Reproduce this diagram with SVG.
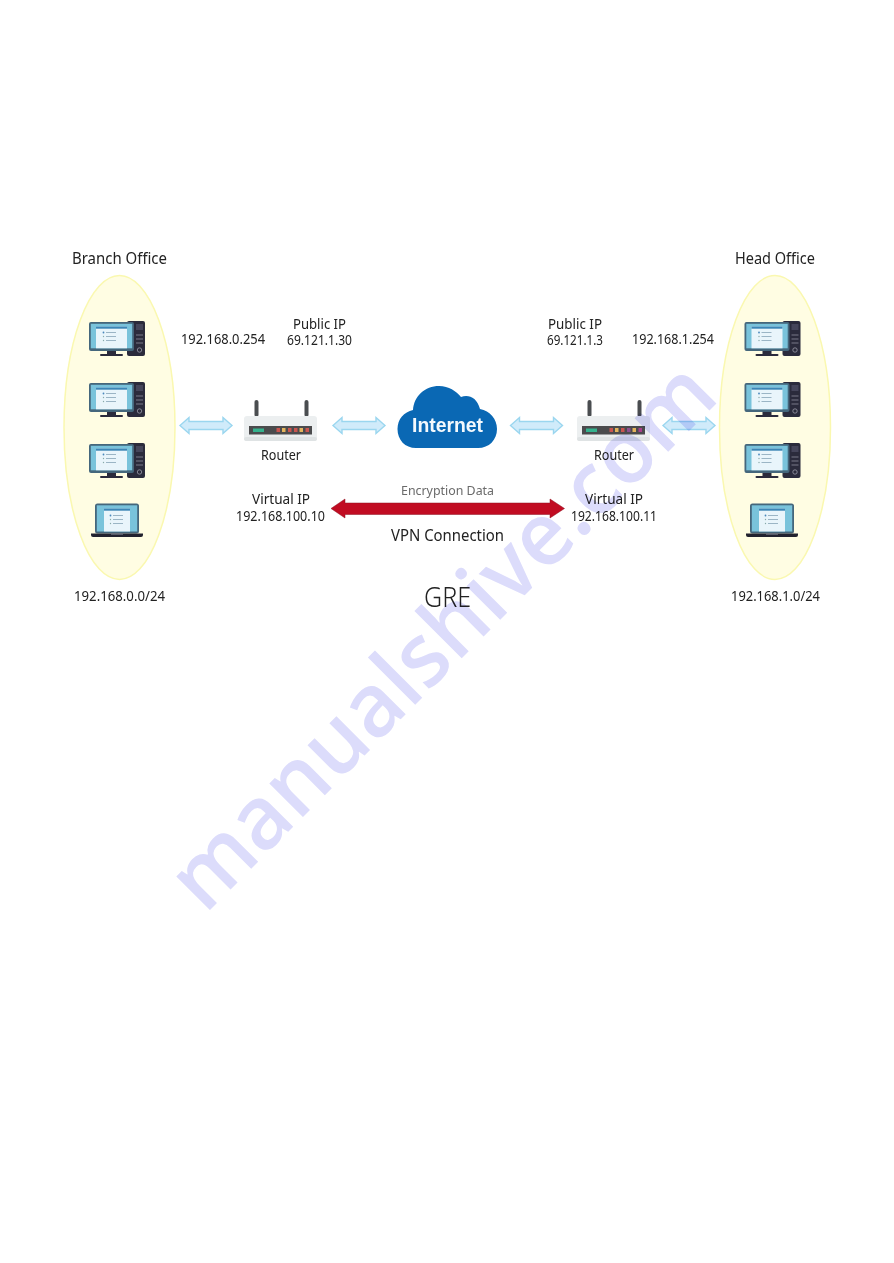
<svg xmlns="http://www.w3.org/2000/svg" width="894" height="1263" viewBox="0 0 894 1263">
<style>
text{font-family:"Noto Sans","Open Sans",sans-serif;fill:#222;font-size:13.5px}
.h{font-size:15.5px}
.enc{fill:#6a6a6a;font-size:13px}
.gre{font-size:28px;font-weight:300}
.inet{font-family:"Liberation Sans",Arial,sans-serif;font-weight:700;font-size:19.5px;fill:#f4f9fd}
.zone{fill:#fffde3;stroke:#faf8b0;stroke-width:1.5}
.flow{fill:#d0ebfa;stroke:#9ad6ef;stroke-width:1.4}
.wm{font-family:"Open Sans","Noto Sans",sans-serif;font-size:88px;font-weight:600;fill:#dcdcfb;mix-blend-mode:multiply}
</style>
<defs>
<g id="desktop">
<rect x="38" y="0" width="18" height="35" rx="2" fill="#2b2b3c"/>
<rect x="47" y="3" width="7" height="6" fill="#45455a"/>
<path d="M47 14h7M47 18h7M47 22h7" stroke="#8d8d9c" stroke-width="0.8"/>
<circle cx="50.500" cy="29" r="2.200" fill="none" stroke="#9a9aa8" stroke-width="0.8"/>
<rect x="0" y="1" width="45" height="29" rx="2" fill="#45677c"/>
<rect x="1.800" y="2.800" width="41.400" height="24.500" fill="#79c3db"/>
<rect x="7" y="5.500" width="31" height="21.800" fill="#e9f5fb"/>
<rect x="7" y="5.500" width="31" height="2.200" fill="#3c86b6"/>
<path d="M17 11.500h10M17 15.500h10M17 19.500h10" stroke="#87a4b8" stroke-width="0.8"/>
<circle cx="14.500" cy="11.500" r="0.900" fill="#4a88bb"/><circle cx="14.500" cy="15.500" r="0.700" fill="#88aaaa"/><circle cx="14.500" cy="19.500" r="0.700" fill="#88aaaa"/>
<rect x="18" y="30" width="9" height="3.500" fill="#2b2b3c"/>
<rect x="11" y="33" width="23" height="2" rx="1" fill="#2b2b3c"/>
</g>
<g id="laptop">
<rect x="4" y="0" width="44" height="30" rx="2.500" fill="#45677c"/>
<rect x="5.800" y="1.800" width="40.400" height="26.200" fill="#79c3db"/>
<rect x="13" y="5" width="26" height="23" fill="#e9f5fb"/>
<rect x="13" y="5" width="26" height="2.200" fill="#3c86b6"/>
<path d="M22 12h10M22 16h10M22 20h10" stroke="#87a4b8" stroke-width="0.8"/>
<circle cx="19.500" cy="12" r="0.900" fill="#4a88bb"/><circle cx="19.500" cy="16" r="0.700" fill="#88aaaa"/><circle cx="19.500" cy="20" r="0.700" fill="#88aaaa"/>
<path d="M0 30H52V31.500Q52 33.500 50 33.500H2Q0 33.500 0 31.500Z" fill="#22222f"/>
<rect x="20" y="30" width="12" height="1.200" fill="#6f7280"/>
</g>
<g id="routerBody">
<rect x="10.500" y="0" width="4" height="17" rx="2" fill="#4a4d50"/>
<rect x="60.500" y="0" width="4" height="17" rx="2" fill="#4a4d50"/>
<rect x="0" y="16" width="73" height="25" rx="3" fill="#eceff0"/>
<rect x="0" y="37" width="73" height="4" rx="2" fill="#dfe3e4"/>
<rect x="5" y="26" width="63" height="8.500" fill="#4b4b4d"/>
<rect x="9" y="28.500" width="11" height="3.500" fill="#35b28d"/>
</g>
<path id="flow" d="M0 8 9 0V4H43V0L52 8 43 16V12H9V16Z"/>
</defs>

<g id="branch-zone"><ellipse class="zone" cx="119.500" cy="427.500" rx="55.500" ry="152"/></g>
<g id="head-zone"><ellipse class="zone" cx="775" cy="427.500" rx="55.500" ry="152"/></g>

<g id="connectors">
<use href="#flow" class="flow" x="180" y="417.500"/>
<use href="#flow" class="flow" x="333" y="417.500"/>
<use href="#flow" class="flow" x="510.500" y="417.500"/>
<use href="#flow" class="flow" x="663" y="417.500"/>
<path id="vpn-link" d="M331 508.500 345 499V503H550V499L564.500 508.500 550 518V514.500H345V518Z" fill="#c10c22" stroke="#8f1020" stroke-width="0.5"/>
</g>

<g id="branch-pc1"><use href="#desktop" x="89" y="321"/></g>
<g id="branch-pc2"><use href="#desktop" x="89" y="382"/></g>
<g id="branch-pc3"><use href="#desktop" x="89" y="443"/></g>
<g id="branch-laptop"><use href="#laptop" x="91" y="503.500"/></g>
<g id="head-pc1"><use href="#desktop" x="744.500" y="321"/></g>
<g id="head-pc2"><use href="#desktop" x="744.500" y="382"/></g>
<g id="head-pc3"><use href="#desktop" x="744.500" y="443"/></g>
<g id="head-laptop"><use href="#laptop" x="746" y="503.500"/></g>

<g id="router-left">
<use href="#routerBody" x="244" y="400"/>
<g fill="#c9554f"><rect x="276.500" y="428" width="3.500" height="4"/><rect x="288" y="428" width="3.500" height="4"/><rect x="294" y="428" width="3.500" height="4"/><rect x="305.500" y="428" width="3.500" height="4"/></g>
<g fill="#e3b45c"><rect x="282" y="428" width="3.500" height="4"/><rect x="299.500" y="428" width="3.500" height="4"/></g>
<text x="261" y="460" textLength="40" lengthAdjust="spacingAndGlyphs">Router</text>
</g>
<g id="router-right">
<use href="#routerBody" x="577" y="400"/>
<g fill="#c9554f"><rect x="609.500" y="428" width="3.500" height="4"/><rect x="621" y="428" width="3.500" height="4"/></g>
<g fill="#e3b45c"><rect x="615" y="428" width="3.500" height="4"/><rect x="632.500" y="428" width="3.500" height="4"/></g>
<rect x="627" y="428" width="3.500" height="4" fill="#8f4f8f"/><rect x="638.500" y="428" width="3.500" height="4" fill="#a8408a"/>
<text x="594" y="460" textLength="40" lengthAdjust="spacingAndGlyphs">Router</text>
</g>

<g id="internet">
<path d="M416 448C405 448 397.500 440 397.500 429 397.500 419 404 412 413 410 414 396 425 386 439 386 449 386 456 391 461 397 468 394 477 397 480 409 490 411 497 419 497 429 497 440 489 448 478 448Z" fill="#0a68b4"/>
<text class="inet" x="412" y="432" textLength="71" lengthAdjust="spacingAndGlyphs">Internet</text>
</g>

<g id="labels">
<text class="h" x="72" y="264" textLength="95" lengthAdjust="spacingAndGlyphs">Branch Office</text>
<text class="h" x="735" y="264" textLength="80" lengthAdjust="spacingAndGlyphs">Head Office</text>
<text x="181" y="344" textLength="84" lengthAdjust="spacingAndGlyphs">192.168.0.254</text>
<text x="293" y="329" textLength="53" lengthAdjust="spacingAndGlyphs">Public IP</text>
<text x="287" y="345" textLength="65" lengthAdjust="spacingAndGlyphs">69.121.1.30</text>
<text x="548" y="329" textLength="54" lengthAdjust="spacingAndGlyphs">Public IP</text>
<text x="547" y="345" textLength="56" lengthAdjust="spacingAndGlyphs">69.121.1.3</text>
<text x="632" y="344" textLength="82" lengthAdjust="spacingAndGlyphs">192.168.1.254</text>
<text x="252" y="504" textLength="58" lengthAdjust="spacingAndGlyphs">Virtual IP</text>
<text x="236" y="521" textLength="89" lengthAdjust="spacingAndGlyphs">192.168.100.10</text>
<text x="585" y="504" textLength="58" lengthAdjust="spacingAndGlyphs">Virtual IP</text>
<text x="571" y="521" textLength="86" lengthAdjust="spacingAndGlyphs">192.168.100.11</text>
<text class="enc" x="401" y="495" textLength="93" lengthAdjust="spacingAndGlyphs">Encryption Data</text>
<text class="h" x="391" y="541" textLength="113" lengthAdjust="spacingAndGlyphs">VPN Connection</text>
<text class="gre" x="424" y="607" textLength="47" lengthAdjust="spacingAndGlyphs">GRE</text>
<text x="74" y="601" textLength="91" lengthAdjust="spacingAndGlyphs">192.168.0.0/24</text>
<text x="731" y="601" textLength="89" lengthAdjust="spacingAndGlyphs">192.168.1.0/24</text>
</g>

<text class="wm" transform="translate(205 915) rotate(-45)" textLength="730" lengthAdjust="spacingAndGlyphs">manualshive.com</text>
</svg>
